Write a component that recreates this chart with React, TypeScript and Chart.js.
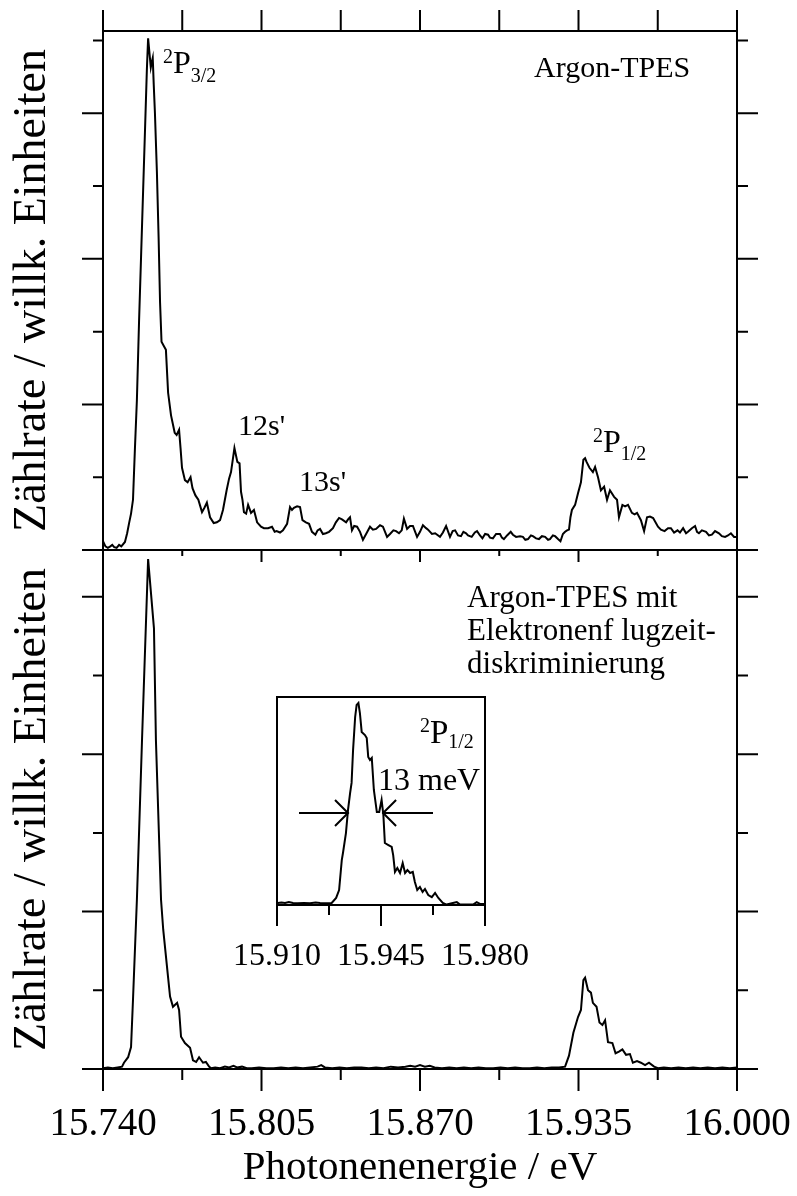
import React, { useEffect, useRef } from "react";
import { Chart, registerables } from "chart.js";

Chart.register(...registerables);

const FONT = "'Liberation Serif', 'Times New Roman', serif";

// ---- axes ----
const X_MIN = 15.74;
const X_MAX = 16.0;
const X_TICK_VALUES = [15.74, 15.7725, 15.805, 15.8375, 15.87, 15.9025, 15.935, 15.9675, 16.0];
const X_LABEL_VALUES = [15.74, 15.805, 15.87, 15.935, 16.0];
const X_LABELS = ["15.740", "15.805", "15.870", "15.935", "16.000"];

const TOP_Y_MAX = 7.13;
const TOP_Y_TICKS = [0, 1, 2, 3, 4, 5, 6, 7];
const TOP_Y_MAJOR = [0, 2, 4, 6];
const BOTTOM_Y_MAX = 6.595;
const BOTTOM_Y_TICKS = [0, 1, 2, 3, 4, 5, 6];
const BOTTOM_Y_MAJOR = [0, 2, 4, 6];

const INSET_X_MIN = 15.91;
const INSET_X_MAX = 15.98;
const INSET_X_TICK_VALUES = [15.91, 15.9275, 15.945, 15.9625, 15.98];
const INSET_X_LABEL_VALUES = [15.91, 15.945, 15.98];
const INSET_X_LABELS = ["15.910", "15.945", "15.980"];
const INSET_Y_MAX = 10;

const Y_TITLE = "Zählrate / willk. Einheiten";
const X_TITLE = "Photonenenergie / eV";

// ---- data: [photon energy (eV), counts (arb. units)] ----
const topSpectrum: [number, number][] = [
  [15.7400, 0.12], [15.7410, 0.05], [15.7420, 0.03], [15.7430, 0.05], [15.7438, 0.07], [15.7446, 0.04],
  [15.7456, 0.03], [15.7466, 0.07], [15.7475, 0.05], [15.7490, 0.11], [15.7499, 0.23], [15.7507, 0.37],
  [15.7515, 0.50], [15.7523, 0.69], [15.7531, 1.40], [15.7539, 2.06], [15.7548, 3.16], [15.7556, 4.02],
  [15.7564, 4.88], [15.7572, 5.74], [15.7580, 6.61], [15.7585, 7.03], [15.7596, 6.63], [15.7600, 6.70],
  [15.7604, 6.76], [15.7608, 6.40], [15.7613, 6.00], [15.7621, 5.20], [15.7628, 4.30], [15.7634, 3.40],
  [15.7640, 2.86], [15.7650, 2.80], [15.7658, 2.75], [15.7667, 2.16], [15.7679, 1.85], [15.7694, 1.61],
  [15.7702, 1.58], [15.7712, 1.65], [15.7718, 1.40], [15.7724, 1.13], [15.7736, 0.96], [15.7747, 0.93],
  [15.7759, 1.00], [15.7767, 0.85], [15.7779, 0.75], [15.7791, 0.69], [15.7806, 0.52], [15.7816, 0.58],
  [15.7826, 0.65], [15.7839, 0.45], [15.7854, 0.37], [15.7867, 0.38], [15.7880, 0.41], [15.7892, 0.55],
  [15.7907, 0.82], [15.7917, 0.98], [15.7925, 1.07], [15.7939, 1.40], [15.7951, 1.21], [15.7960, 1.19],
  [15.7966, 0.80], [15.7972, 0.69], [15.7978, 0.52], [15.7987, 0.50], [15.7995, 0.62], [15.8007, 0.51],
  [15.8019, 0.55], [15.8032, 0.38], [15.8048, 0.32], [15.8060, 0.30], [15.8077, 0.30], [15.8093, 0.32],
  [15.8104, 0.25], [15.8112, 0.26], [15.8126, 0.24], [15.8138, 0.27], [15.8155, 0.36], [15.8167, 0.59],
  [15.8175, 0.55], [15.8183, 0.58], [15.8196, 0.60], [15.8208, 0.59], [15.8218, 0.41], [15.8232, 0.38],
  [15.8245, 0.36], [15.8257, 0.25], [15.8271, 0.21], [15.8280, 0.27], [15.8290, 0.29], [15.8302, 0.22],
  [15.8314, 0.23], [15.8327, 0.25], [15.8343, 0.30], [15.8355, 0.38], [15.8368, 0.44], [15.8380, 0.42],
  [15.8397, 0.38], [15.8405, 0.42], [15.8413, 0.45], [15.8421, 0.27], [15.8430, 0.33], [15.8442, 0.32],
  [15.8454, 0.25], [15.8466, 0.14], [15.8479, 0.22], [15.8495, 0.32], [15.8507, 0.28], [15.8520, 0.29],
  [15.8536, 0.34], [15.8548, 0.32], [15.8565, 0.18], [15.8577, 0.22], [15.8591, 0.27], [15.8602, 0.26],
  [15.8614, 0.23], [15.8625, 0.27], [15.8634, 0.43], [15.8647, 0.29], [15.8659, 0.33], [15.8671, 0.33],
  [15.8688, 0.18], [15.8700, 0.25], [15.8712, 0.34], [15.8725, 0.30], [15.8733, 0.28], [15.8749, 0.22],
  [15.8762, 0.23], [15.8782, 0.18], [15.8794, 0.24], [15.8807, 0.33], [15.8823, 0.18], [15.8834, 0.26],
  [15.8844, 0.27], [15.8856, 0.20], [15.8868, 0.19], [15.8878, 0.25], [15.8889, 0.23], [15.8897, 0.20],
  [15.8912, 0.18], [15.8925, 0.24], [15.8934, 0.26], [15.8946, 0.20], [15.8956, 0.16], [15.8967, 0.22],
  [15.8979, 0.21], [15.8987, 0.17], [15.8999, 0.16], [15.9012, 0.22], [15.9028, 0.22], [15.9036, 0.17],
  [15.9044, 0.15], [15.9057, 0.20], [15.9072, 0.25], [15.9081, 0.21], [15.9094, 0.18], [15.9110, 0.19],
  [15.9122, 0.18], [15.9132, 0.14], [15.9143, 0.15], [15.9155, 0.20], [15.9163, 0.19], [15.9176, 0.16],
  [15.9188, 0.15], [15.9200, 0.19], [15.9213, 0.18], [15.9225, 0.14], [15.9233, 0.15], [15.9245, 0.20],
  [15.9254, 0.19], [15.9266, 0.15], [15.9276, 0.12], [15.9286, 0.22], [15.9295, 0.25], [15.9303, 0.27],
  [15.9311, 0.28], [15.9317, 0.45], [15.9323, 0.55], [15.9336, 0.62], [15.9348, 0.78], [15.9360, 0.93],
  [15.9370, 1.24], [15.9377, 1.26], [15.9383, 1.21], [15.9395, 1.13], [15.9409, 1.07], [15.9418, 1.14],
  [15.9430, 1.00], [15.9442, 0.82], [15.9455, 0.87], [15.9467, 0.69], [15.9479, 0.82], [15.9496, 0.73],
  [15.9508, 0.69], [15.9516, 0.45], [15.9530, 0.62], [15.9541, 0.60], [15.9553, 0.62], [15.9569, 0.51],
  [15.9580, 0.49], [15.9590, 0.51], [15.9606, 0.41], [15.9619, 0.26], [15.9631, 0.45], [15.9643, 0.46],
  [15.9656, 0.44], [15.9676, 0.32], [15.9688, 0.28], [15.9703, 0.26], [15.9717, 0.30], [15.9729, 0.30],
  [15.9742, 0.24], [15.9756, 0.27], [15.9766, 0.24], [15.9779, 0.30], [15.9791, 0.23], [15.9799, 0.25],
  [15.9815, 0.30], [15.9828, 0.33], [15.9836, 0.25], [15.9844, 0.23], [15.9856, 0.27], [15.9873, 0.25],
  [15.9885, 0.20], [15.9897, 0.21], [15.9910, 0.26], [15.9926, 0.23], [15.9938, 0.19], [15.9951, 0.18],
  [15.9963, 0.20], [15.9975, 0.23], [15.9988, 0.18], [16.0000, 0.18],
];

const bottomSpectrum: [number, number][] = [
  [15.7400, 0.01], [15.7420, 0.02], [15.7440, 0.01], [15.7460, 0.02], [15.7478, 0.03], [15.7486, 0.08],
  [15.7503, 0.15], [15.7515, 0.28], [15.7523, 0.88], [15.7539, 2.15], [15.7560, 4.18], [15.7585, 6.48],
  [15.7609, 5.60], [15.7617, 4.18], [15.7638, 2.15], [15.7647, 1.77], [15.7667, 1.16], [15.7675, 0.92],
  [15.7687, 0.79], [15.7704, 0.84], [15.7712, 0.75], [15.7720, 0.41], [15.7736, 0.33], [15.7757, 0.27],
  [15.7769, 0.11], [15.7782, 0.09], [15.7794, 0.15], [15.7810, 0.08], [15.7822, 0.09], [15.7835, 0.03],
  [15.7843, 0.01], [15.7860, 0.02], [15.7880, 0.01], [15.7900, 0.03], [15.7917, 0.02], [15.7935, 0.04],
  [15.7950, 0.02], [15.7970, 0.03], [15.7990, 0.01], [15.8010, 0.01], [15.8040, 0.02], [15.8070, 0.01],
  [15.8100, 0.01], [15.8130, 0.02], [15.8160, 0.01], [15.8190, 0.02], [15.8220, 0.01], [15.8250, 0.02],
  [15.8280, 0.03], [15.8295, 0.05], [15.8310, 0.02], [15.8340, 0.01], [15.8370, 0.02], [15.8400, 0.01],
  [15.8430, 0.02], [15.8460, 0.02], [15.8490, 0.01], [15.8520, 0.02], [15.8550, 0.01], [15.8580, 0.03],
  [15.8610, 0.02], [15.8640, 0.03], [15.8660, 0.04], [15.8680, 0.03], [15.8700, 0.05], [15.8720, 0.03],
  [15.8740, 0.04], [15.8760, 0.02], [15.8790, 0.01], [15.8820, 0.02], [15.8850, 0.01], [15.8880, 0.02],
  [15.8910, 0.01], [15.8940, 0.02], [15.8970, 0.01], [15.9000, 0.01], [15.9030, 0.02], [15.9060, 0.01],
  [15.9090, 0.02], [15.9120, 0.01], [15.9150, 0.01], [15.9180, 0.02], [15.9210, 0.01], [15.9240, 0.02],
  [15.9270, 0.02], [15.9295, 0.03], [15.9311, 0.17], [15.9329, 0.46], [15.9348, 0.66], [15.9360, 0.75],
  [15.9370, 1.13], [15.9377, 1.16], [15.9389, 1.00], [15.9401, 0.97], [15.9409, 0.84], [15.9424, 0.79],
  [15.9436, 0.59], [15.9448, 0.56], [15.9459, 0.62], [15.9471, 0.34], [15.9489, 0.33], [15.9502, 0.20],
  [15.9516, 0.22], [15.9530, 0.25], [15.9545, 0.18], [15.9561, 0.19], [15.9573, 0.08], [15.9590, 0.10],
  [15.9606, 0.08], [15.9623, 0.05], [15.9639, 0.08], [15.9660, 0.03], [15.9676, 0.01], [15.9700, 0.02],
  [15.9730, 0.01], [15.9760, 0.02], [15.9790, 0.01], [15.9820, 0.02], [15.9850, 0.01], [15.9880, 0.02],
  [15.9910, 0.01], [15.9940, 0.02], [15.9970, 0.01], [16.0000, 0.02],
];

const insetSpectrum: [number, number][] = [
  [15.9103, 0.10], [15.9115, 0.12], [15.9127, 0.10], [15.9140, 0.14], [15.9154, 0.10], [15.9170, 0.08],
  [15.9190, 0.10], [15.9211, 0.08], [15.9230, 0.12], [15.9245, 0.10], [15.9265, 0.08], [15.9284, 0.10],
  [15.9299, 0.34], [15.9309, 0.72], [15.9318, 2.16], [15.9322, 2.50], [15.9332, 3.46], [15.9339, 4.57],
  [15.9346, 5.38], [15.9351, 5.87], [15.9356, 7.45], [15.9363, 9.04], [15.9368, 9.62], [15.9374, 9.71],
  [15.9379, 9.23], [15.9385, 8.32], [15.9396, 8.17], [15.9402, 8.03], [15.9407, 7.12], [15.9413, 6.97],
  [15.9419, 7.07], [15.9426, 5.53], [15.9436, 4.47], [15.9444, 4.47], [15.9452, 5.05], [15.9458, 4.33],
  [15.9463, 2.98], [15.9475, 2.88], [15.9486, 2.79], [15.9491, 2.40], [15.9497, 1.59], [15.9505, 1.78],
  [15.9514, 1.54], [15.9523, 2.02], [15.9531, 1.54], [15.9539, 1.68], [15.9548, 1.54], [15.9557, 1.59],
  [15.9564, 1.11], [15.9572, 0.72], [15.9581, 0.87], [15.9590, 0.63], [15.9598, 0.77], [15.9609, 0.48],
  [15.9621, 0.38], [15.9632, 0.58], [15.9643, 0.34], [15.9658, 0.10], [15.9671, 0.02], [15.9692, 0.10],
  [15.9705, 0.14], [15.9716, 0.02], [15.9736, 0.02], [15.9760, 0.02], [15.9772, 0.14], [15.9783, 0.05],
  [15.9800, 0.05],
];

// FWHM marker in the inset: [tail energy, tip energy], at height
const FWHM_LEVEL = 4.42;
const FWHM_LEFT_ARROW = [15.9174, 15.9339];
const FWHM_RIGHT_ARROW = [15.9625, 15.9457];

// ---- helpers ----
type Part = { t: string; s: number; dy?: number };
type Annot = { at: [number, number]; parts: Part[] };

const topAnnotations: Annot[] = [
  { at: [15.7646, 6.552], parts: [{ t: "2", s: 20, dy: -10 }, { t: "P", s: 32 }, { t: "3/2", s: 20, dy: 9 }] },
  { at: [15.9168, 6.497], parts: [{ t: "Argon-TPES", s: 30 }] },
  { at: [15.7954, 1.58], parts: [{ t: "12s'", s: 30 }] },
  { at: [15.8204, 0.81], parts: [{ t: "13s'", s: 30 }] },
  { at: [15.9409, 1.346], parts: [{ t: "2", s: 20, dy: -10 }, { t: "P", s: 32 }, { t: "1/2", s: 20, dy: 8 }] },
];

const bottomAnnotations: Annot[] = [
  { at: [15.8893, 5.87], parts: [{ t: "Argon-TPES mit", s: 31 }] },
  { at: [15.8893, 5.451], parts: [{ t: "Elektronenf lugzeit-", s: 31 }] },
  { at: [15.8893, 5.032], parts: [{ t: "diskriminierung", s: 31 }] },
];

const insetAnnotations: Annot[] = [
  { at: [15.9581, 7.79], parts: [{ t: "2", s: 20, dy: -11 }, { t: "P", s: 33 }, { t: "1/2", s: 20, dy: 5 }] },
  { at: [15.944, 5.53], parts: [{ t: "13 meV", s: 32 }] },
];

const near = (v: number, arr: number[]) => arr.some((a) => Math.abs(a - v) < 1e-6);

function drawRich(ctx: CanvasRenderingContext2D, x: number, y: number, parts: Part[]) {
  let cx = x;
  for (const p of parts) {
    ctx.font = `${p.s}px ${FONT}`;
    ctx.fillText(p.t, cx, y + (p.dy || 0));
    cx += ctx.measureText(p.t).width;
  }
}

type TickSide = { values: number[]; major: number[]; majorLen: number; minorLen: number };
type FrameSpec = {
  edges: { top?: boolean; bottom?: boolean; left?: boolean; right?: boolean };
  top?: TickSide; bottom?: TickSide; left?: TickSide; right?: TickSide;
  annotations: Annot[];
  extra?: (chart: any, ctx: CanvasRenderingContext2D) => void;
};

function framePlugin(id: string, spec: FrameSpec) {
  return {
    id,
    afterDraw(chart: any) {
      const { ctx, chartArea: a, scales } = chart;
      const xs = scales.x;
      const ys = scales.y;
      ctx.save();
      ctx.strokeStyle = "#000";
      ctx.lineWidth = 2;
      ctx.lineCap = "butt";
      ctx.beginPath();
      if (spec.edges.top) { ctx.moveTo(a.left - 1, a.top); ctx.lineTo(a.right + 1, a.top); }
      if (spec.edges.bottom) { ctx.moveTo(a.left - 1, a.bottom); ctx.lineTo(a.right + 1, a.bottom); }
      if (spec.edges.left) { ctx.moveTo(a.left, a.top - 1); ctx.lineTo(a.left, a.bottom + 1); }
      if (spec.edges.right) { ctx.moveTo(a.right, a.top - 1); ctx.lineTo(a.right, a.bottom + 1); }
      const len = (t: TickSide, v: number) => (near(v, t.major) ? t.majorLen : t.minorLen);
      if (spec.top) for (const v of spec.top.values) {
        const x = xs.getPixelForValue(v); ctx.moveTo(x, a.top); ctx.lineTo(x, a.top - len(spec.top, v));
      }
      if (spec.bottom) for (const v of spec.bottom.values) {
        const x = xs.getPixelForValue(v); ctx.moveTo(x, a.bottom); ctx.lineTo(x, a.bottom + len(spec.bottom, v));
      }
      if (spec.left) for (const v of spec.left.values) {
        const y = ys.getPixelForValue(v); ctx.moveTo(a.left, y); ctx.lineTo(a.left - len(spec.left, v), y);
      }
      if (spec.right) for (const v of spec.right.values) {
        const y = ys.getPixelForValue(v); ctx.moveTo(a.right, y); ctx.lineTo(a.right + len(spec.right, v), y);
      }
      ctx.stroke();
      ctx.fillStyle = "#000";
      ctx.textAlign = "left";
      ctx.textBaseline = "alphabetic";
      for (const an of spec.annotations) {
        drawRich(ctx, xs.getPixelForValue(an.at[0]), ys.getPixelForValue(an.at[1]), an.parts);
      }
      if (spec.extra) spec.extra(chart, ctx);
      ctx.restore();
    },
  };
}

function lineDataset(points: [number, number][]) {
  return {
    data: points.map(([x, y]) => ({ x, y })),
    borderColor: "#000",
    borderWidth: 2,
    pointRadius: 0,
    pointHoverRadius: 0,
    fill: false,
    tension: 0,
  };
}

const hiddenYWithTitle = (max: number) => ({
  type: "linear",
  min: 0,
  max,
  position: "left",
  grid: { display: false, drawTicks: false },
  border: { display: false },
  ticks: { display: false },
  title: {
    display: true,
    text: Y_TITLE,
    color: "#000",
    font: { family: FONT, size: 46 },
    padding: { top: 5, bottom: 0 },
  },
  afterFit: (s: any) => { s.width = 103; },
});

const baseOptions = {
  animation: false,
  responsive: false,
  maintainAspectRatio: false,
  devicePixelRatio: 1,
  events: [],
  plugins: { legend: { display: false }, tooltip: { enabled: false }, title: { display: false } },
};

function topConfig(): any {
  return {
    type: "line",
    data: { datasets: [lineDataset(topSpectrum)] },
    options: {
      ...baseOptions,
      layout: { autoPadding: false, padding: { left: 0, top: 31, right: 60, bottom: 50 } },
      scales: {
        x: { type: "linear", min: X_MIN, max: X_MAX, display: false },
        y: hiddenYWithTitle(TOP_Y_MAX),
      },
    },
    plugins: [
      framePlugin("topFrame", {
        edges: { top: true, bottom: true, left: true, right: true },
        top: { values: X_TICK_VALUES, major: X_LABEL_VALUES, majorLen: 21, minorLen: 21 },
        bottom: { values: X_TICK_VALUES, major: X_LABEL_VALUES, majorLen: 12, minorLen: 6 },
        left: { values: TOP_Y_TICKS, major: TOP_Y_MAJOR, majorLen: 21, minorLen: 10 },
        right: { values: TOP_Y_TICKS, major: TOP_Y_MAJOR, majorLen: 21, minorLen: 11 },
        annotations: topAnnotations,
      }),
    ],
  };
}

function bottomConfig(): any {
  return {
    type: "line",
    data: { datasets: [lineDataset(bottomSpectrum)] },
    options: {
      ...baseOptions,
      layout: { autoPadding: false, padding: { left: 0, top: 550, right: 60, bottom: 0 } },
      scales: {
        x: {
          type: "linear",
          min: X_MIN,
          max: X_MAX,
          position: "bottom",
          // tick marks are drawn by the frame plugin; tickLength only spaces the labels
          grid: { display: false, drawTicks: true, tickLength: 32 },
          border: { display: false },
          afterBuildTicks: (s: any) => { s.ticks = X_LABEL_VALUES.map((value) => ({ value })); },
          ticks: {
            autoSkip: false,
            maxRotation: 0,
            minRotation: 0,
            padding: 0,
            color: "#000",
            font: { family: FONT, size: 39 },
            callback: (v: number) => {
              const i = X_LABEL_VALUES.findIndex((a) => Math.abs(a - v) < 1e-6);
              return i >= 0 ? X_LABELS[i] : "";
            },
          },
          title: {
            display: true,
            text: X_TITLE,
            color: "#000",
            font: { family: FONT, size: 41 },
            padding: { top: 0, bottom: 3 },
          },
          afterFit: (s: any) => { s.height = 127; },
        },
        y: hiddenYWithTitle(BOTTOM_Y_MAX),
      },
    },
    plugins: [
      framePlugin("bottomFrame", {
        edges: { top: true, bottom: true, left: true, right: true },
        bottom: { values: X_TICK_VALUES, major: X_LABEL_VALUES, majorLen: 22, minorLen: 11 },
        left: { values: BOTTOM_Y_TICKS, major: BOTTOM_Y_MAJOR, majorLen: 21, minorLen: 10 },
        right: { values: BOTTOM_Y_TICKS, major: BOTTOM_Y_MAJOR, majorLen: 21, minorLen: 11 },
        annotations: bottomAnnotations,
      }),
    ],
  };
}

function insetConfig(): any {
  return {
    type: "line",
    data: { datasets: [lineDataset(insetSpectrum)] },
    options: {
      ...baseOptions,
      layout: { autoPadding: false, padding: { left: 277, top: 697, right: 312, bottom: 0 } },
      scales: {
        x: {
          type: "linear",
          min: INSET_X_MIN,
          max: INSET_X_MAX,
          position: "bottom",
          grid: { display: false, drawTicks: true, tickLength: 32 },
          border: { display: false },
          afterBuildTicks: (s: any) => { s.ticks = INSET_X_LABEL_VALUES.map((value) => ({ value })); },
          ticks: {
            autoSkip: false,
            maxRotation: 0,
            minRotation: 0,
            padding: 0,
            color: "#000",
            font: { family: FONT, size: 32 },
            callback: (v: number) => {
              const i = INSET_X_LABEL_VALUES.findIndex((a) => Math.abs(a - v) < 1e-6);
              return i >= 0 ? INSET_X_LABELS[i] : "";
            },
          },
          afterFit: (s: any) => { s.height = 291; },
        },
        y: { type: "linear", min: 0, max: INSET_Y_MAX, display: false },
      },
    },
    plugins: [
      framePlugin("insetFrame", {
        edges: { top: true, bottom: true, left: true, right: true },
        bottom: { values: INSET_X_TICK_VALUES, major: INSET_X_LABEL_VALUES, majorLen: 21, minorLen: 10 },
        annotations: insetAnnotations,
        extra: (chart: any, ctx: CanvasRenderingContext2D) => {
          const xs = chart.scales.x;
          const y = chart.scales.y.getPixelForValue(FWHM_LEVEL);
          const arrow = (from: number, to: number) => {
            const x0 = xs.getPixelForValue(from);
            const x1 = xs.getPixelForValue(to);
            const d = x1 > x0 ? 1 : -1;
            ctx.beginPath();
            ctx.moveTo(x0, y);
            ctx.lineTo(x1, y);
            ctx.moveTo(x1 - d * 13, y - 13);
            ctx.lineTo(x1, y);
            ctx.lineTo(x1 - d * 13, y + 13);
            ctx.stroke();
          };
          arrow(FWHM_LEFT_ARROW[0], FWHM_LEFT_ARROW[1]);
          arrow(FWHM_RIGHT_ARROW[0], FWHM_RIGHT_ARROW[1]);
        },
      }),
    ],
  };
}

export default function App() {
  const topRef = useRef<HTMLCanvasElement>(null);
  const bottomRef = useRef<HTMLCanvasElement>(null);
  const insetRef = useRef<HTMLCanvasElement>(null);

  useEffect(() => {
    const charts = [
      new Chart(topRef.current as HTMLCanvasElement, topConfig()),
      new Chart(bottomRef.current as HTMLCanvasElement, bottomConfig()),
      new Chart(insetRef.current as HTMLCanvasElement, insetConfig()),
    ];
    return () => charts.forEach((c) => c.destroy());
  }, []);

  const cstyle: React.CSSProperties = { position: "absolute", left: 0, top: 0 };
  return (
    <div style={{ position: "absolute", left: 0, top: 0, width: 797, height: 1196, background: "#fff", overflow: "hidden" }}>
      <canvas ref={topRef} width={797} height={600} style={{ ...cstyle, width: 797, height: 600 }} />
      <canvas ref={bottomRef} width={797} height={1196} style={{ ...cstyle, width: 797, height: 1196 }} />
      <canvas ref={insetRef} width={797} height={1196} style={{ ...cstyle, width: 797, height: 1196 }} />
    </div>
  );
}
